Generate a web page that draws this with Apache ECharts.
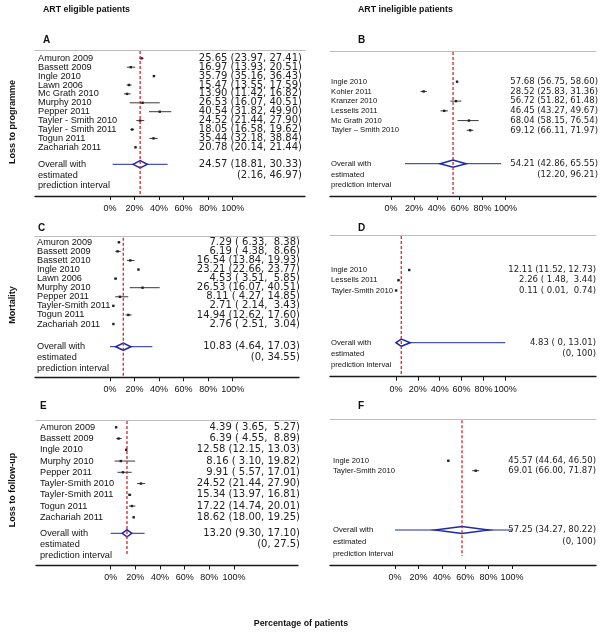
<!DOCTYPE html>
<html><head><meta charset="utf-8">
<script src="https://cdn.jsdelivr.net/npm/echarts@6/dist/echarts.min.js"></script>
<style>html,body{margin:0;padding:0;background:#fff}#c{width:602px;height:636px}</style>
</head><body><div id="c"></div>
<script>
// ---------- DATA ----------
const tickValues = [0, 20, 40, 60, 80, 100];
const overallLabels = ['Overall with', 'estimated', 'prediction interval'];

// Panel A: ART eligible – Loss to programme
const aNames = ['Amuron 2009','Bassett 2009','Ingle 2010','Lawn 2006','Mc Grath 2010','Murphy 2010','Pepper 2011','Tayler - Smith 2010','Tayler - Smith 2011','Togun 2011','Zachariah 2011'];
const aEst = [25.65,16.97,35.79,15.47,13.90,26.53,40.54,24.52,18.05,35.44,20.78];
const aLo  = [23.97,13.93,35.16,13.55,11.42,16.07,31.82,21.44,16.58,32.18,20.14];
const aHi  = [27.41,20.51,36.43,17.59,16.82,40.51,49.90,27.90,19.62,38.84,21.44];
const aPooled = [24.57, 18.81, 30.33];
const aPI = [2.16, 46.97];
const aPIText = '(2.16, 46.97)';

// Panel B: ART ineligible – Loss to programme
const bNames = ['Ingle 2010','Kohler 2011','Kranzer 2010','Lessells 2011','Mc Grath 2010','Tayler – Smith 2010'];
const bEst = [57.68,28.52,56.72,46.45,68.04,69.12];
const bLo  = [56.75,25.83,51.82,43.27,58.15,66.11];
const bHi  = [58.60,31.36,61.48,49.67,76.54,71.97];
const bPooled = [54.21, 42.86, 65.55];
const bPI = [12.20, 96.21];
const bPIText = '(12.20, 96.21)';

// Panel C: ART eligible – Mortality
const cNames = ['Amuron 2009','Bassett 2009','Bassett 2010','Ingle 2010','Lawn 2006','Murphy 2010','Pepper 2011','Tayler-Smith 2011','Togun 2011','Zachariah 2011'];
const cEst = [7.29,6.19,16.54,23.21,4.53,26.53,8.11,2.71,14.94,2.76];
const cLo  = [6.33,4.38,13.84,22.66,3.51,16.07,4.27,2.14,12.62,2.51];
const cHi  = [8.38,8.66,19.93,23.77,5.85,40.51,14.85,3.43,17.60,3.04];
const cPooled = [10.83, 4.64, 17.03];
const cPI = [0, 34.55];
const cPIText = '(0, 34.55)';

// Panel D: ART ineligible – Mortality
const dNames = ['Ingle 2010','Lessells 2011','Tayler-Smith 2010'];
const dEst = [12.11,2.26,0.11];
const dLo  = [11.52,1.48,0.01];
const dHi  = [12.73,3.44,0.74];
const dPooled = [4.83, 0, 13.01];
const dPI = [0, 100];
const dPIText = '(0, 100)';

// Panel E: ART eligible – Loss to follow-up
const eNames = ['Amuron 2009','Bassett 2009','Ingle 2010','Murphy 2010','Pepper 2011','Tayler-Smith 2010','Tayler-Smith 2011','Togun 2011','Zachariah 2011'];
const eEst = [4.39,6.39,12.58,8.16,9.91,24.52,15.34,17.22,18.62];
const eLo  = [3.65,4.55,12.15,3.10,5.57,21.44,13.97,14.74,18.00];
const eHi  = [5.27,8.89,13.03,19.82,17.01,27.90,16.81,20.01,19.25];
const ePooled = [13.20, 9.30, 17.10];
const ePI = [0, 27.5];
const ePIText = '(0, 27.5)';

// Panel F: ART ineligible – Loss to follow-up
const fNames = ['Ingle 2010','Tayler-Smith 2010'];
const fEst = [45.57,69.01];
const fLo  = [44.64,66.00];
const fHi  = [46.50,71.87];
const fPooled = [57.25, 34.27, 80.22];
const fPI = [0, 100];
const fPIText = '(0, 100)';

// ---------- LAYOUT ----------
const FONT = '"Liberation Sans", Arial, Helvetica, sans-serif';
const NUMFONT = '"DejaVu Sans", Verdana, sans-serif';
const panels = [
  {names:aNames, est:aEst, lo:aLo, hi:aHi, pooled:aPooled, pi:aPI, piText:aPIText,
   L:{left:35,right:305,top:50,bottom:196,zero:110,scale:1.227,firstY:58.3,rowStep:8.9,overallY:164.3,lineStep:10.7,nameX:38,ciRight:302,nameFont:9.2,ciFont:10,redEnd:196}},
  {names:bNames, est:bEst, lo:bLo, hi:bHi, pooled:bPooled, pi:bPI, piText:bPIText,
   L:{left:330,right:596,top:51,bottom:196,zero:391,scale:1.145,firstY:81.7,rowStep:9.72,overallY:163.7,lineStep:10.7,nameX:331,ciRight:598,nameFont:7.7,ciFont:8.5,redEnd:194}},
  {names:cNames, est:cEst, lo:cLo, hi:cHi, pooled:cPooled, pi:cPI, piText:cPIText,
   L:{left:35,right:299,top:236.7,bottom:377.3,zero:110,scale:1.227,firstY:242.3,rowStep:9.08,overallY:346.7,lineStep:11,nameX:37,ciRight:300,nameFont:9.2,ciFont:10,redEnd:377}},
  {names:dNames, est:dEst, lo:dLo, hi:dHi, pooled:dPooled, pi:dPI, piText:dPIText,
   L:{left:330,right:596,top:235,bottom:376.7,zero:396,scale:1.093,firstY:270,rowStep:10.25,overallY:342.7,lineStep:11.2,nameX:331,ciRight:596,nameFont:7.7,ciFont:8.5,redEnd:376}},
  {names:eNames, est:eEst, lo:eLo, hi:eHi, pooled:ePooled, pi:ePI, piText:ePIText,
   L:{left:36,right:298,top:420,bottom:565.5,zero:110.7,scale:1.233,firstY:427.3,rowStep:11.25,overallY:533.3,lineStep:10.85,nameX:40,ciRight:300,nameFont:9.2,ciFont:10,redEnd:556}},
  {names:fNames, est:fEst, lo:fLo, hi:fHi, pooled:fPooled, pi:fPI, piText:fPIText,
   L:{left:330,right:596,top:419.3,bottom:565,zero:395,scale:1.17,firstY:460.7,rowStep:10,overallY:530,lineStep:12,nameX:333,ciRight:596,nameFont:7.7,ciFont:8.5,redEnd:556}}
];

function ciString(e, l, h, pad) {
  const f = v => v === 0 ? '0' : v.toFixed(2);
  const p = s => pad ? s.padStart(5, ' ') : s;
  return e.toFixed(2) + ' (' + (l === 0 ? ' 0' : p(f(l))) + ', ' + p(f(h)) + ')';
}

const BLUE = '#1c2aa6';
const RED = '#d8262c';
const grid = [], xAxis = [], yAxis = [], series = [];

panels.forEach((P, i) => {
  const L = P.L;
  const width = L.right - L.left, height = L.bottom - L.top;
  const xMin = (L.left - L.zero) / L.scale;
  const xMax = xMin + width / L.scale;
  const yMin = (L.top - L.firstY) / L.rowStep;
  const yMax = (L.bottom - L.firstY) / L.rowStep;
  const oRow = (L.overallY - L.firstY) / L.rowStep;
  const lStep = L.lineStep / L.rowStep;

  grid.push({left: L.left, top: L.top, width: width, height: height, containLabel: false});
  xAxis.push({
    gridIndex: i, type: 'value', position: 'bottom', min: xMin, max: xMax,
    axisLine: {show: true, onZero: false, lineStyle: {color: '#1a1a1a', width: 1.3}},
    axisTick: {show: true, customValues: tickValues, length: 4, lineStyle: {color: '#1a1a1a', width: 1}},
    axisLabel: {show: true, customValues: tickValues, formatter: v => v + '%', fontSize: 9, color: '#111', margin: 8, fontFamily: FONT},
    splitLine: {show: false}
  });
  xAxis.push({
    gridIndex: i, type: 'value', position: 'top', min: xMin, max: xMax,
    axisLine: {show: true, onZero: false, lineStyle: {color: '#bdbdbd', width: 1}},
    axisTick: {show: false}, axisLabel: {show: false}, splitLine: {show: false}
  });
  yAxis.push({gridIndex: i, type: 'value', inverse: true, min: yMin, max: yMax, show: false});

  const xi = 2 * i, yi = i;

  // study CIs and point estimates
  series.push({
    type: 'custom', xAxisIndex: xi, yAxisIndex: yi, silent: true,
    data: P.names.map((n, k) => [P.est[k], P.lo[k], P.hi[k], k]),
    encode: {x: [0, 1, 2], y: 3},
    renderItem: (params, api) => {
      const y = api.coord([0, api.value(3)])[1];
      const xe = api.coord([api.value(0), 0])[0];
      const xl = api.coord([api.value(1), 0])[0];
      const xh = api.coord([api.value(2), 0])[0];
      return {type: 'group', children: [
        {type: 'line', shape: {x1: xl, y1: y, x2: xh, y2: y}, style: {stroke: '#222', lineWidth: 0.9}},
        {type: 'rect', shape: {x: xe - 1.2, y: y - 1.2, width: 2.4, height: 2.4}, style: {fill: '#222'}}
      ]};
    }
  });

  // pooled estimate diamond with prediction interval
  series.push({
    type: 'custom', xAxisIndex: xi, yAxisIndex: yi, silent: true,
    data: [[P.pooled[0], P.pooled[1], P.pooled[2], P.pi[0], P.pi[1], oRow]],
    encode: {x: [0, 1, 2, 3, 4], y: 5},
    renderItem: (params, api) => {
      const y = api.coord([0, api.value(5)])[1];
      const xe = api.coord([api.value(0), 0])[0];
      const xl = api.coord([api.value(1), 0])[0];
      const xh = api.coord([api.value(2), 0])[0];
      const pl = api.coord([api.value(3), 0])[0];
      const ph = api.coord([api.value(4), 0])[0];
      const h = 3.6;
      return {type: 'group', children: [
        {type: 'line', shape: {x1: pl, y1: y, x2: ph, y2: y}, style: {stroke: BLUE, lineWidth: 1}},
        {type: 'polygon', shape: {points: [[xl, y], [xe, y - h], [xh, y], [xe, y + h]]},
         style: {fill: '#fff', stroke: BLUE, lineWidth: 1.5}}
      ]};
    }
  });

  // red dashed line at pooled estimate
  series.push({
    type: 'custom', xAxisIndex: xi, yAxisIndex: yi, silent: true,
    data: [[P.pooled[0], 0]],
    encode: {x: 0, y: 1},
    renderItem: (params, api) => {
      const x = api.coord([api.value(0), 0])[0];
      const cs = params.coordSys;
      return {type: 'line', shape: {x1: x, y1: cs.y + 1, x2: x, y2: L.redEnd},
        style: {stroke: RED, lineWidth: 1.3, lineDash: [3, 2]}};
    }
  });

  // row texts (study labels and estimates)
  const rowTexts = P.names.map((n, k) => ({row: k, name: n, ci: ciString(P.est[k], P.lo[k], P.hi[k], true)}));
  rowTexts.push({row: oRow, name: overallLabels[0], ci: ciString(P.pooled[0], P.pooled[1], P.pooled[2], false)});
  rowTexts.push({row: oRow + lStep, name: overallLabels[1], ci: P.piText});
  rowTexts.push({row: oRow + 2 * lStep, name: overallLabels[2], ci: ''});
  series.push({
    type: 'custom', xAxisIndex: xi, yAxisIndex: yi, silent: true,
    data: rowTexts.map(r => [0, r.row]),
    encode: {x: 0, y: 1},
    renderItem: (params, api) => {
      const r = rowTexts[params.dataIndex];
      const y = api.coord([0, api.value(1)])[1];
      return {type: 'group', children: [
        {type: 'text', x: L.nameX, y: y, style: {text: r.name, fontSize: L.nameFont, fontFamily: FONT, fill: '#111', align: 'left', verticalAlign: 'middle'}},
        {type: 'text', x: L.ciRight, y: y, style: {text: r.ci, fontSize: L.ciFont, fontFamily: NUMFONT, fill: '#222', align: 'right', verticalAlign: 'middle'}}
      ]};
    }
  });
});

const txt = (t, x, y, size, extra) => Object.assign({type: 'text', x: x, y: y,
  style: {text: t, fontSize: size, fontWeight: 'bold', fontFamily: FONT, fill: '#111', align: 'left', verticalAlign: 'middle'}}, extra || {});
const rot = (t, x, y) => ({type: 'text', x: x, y: y, rotation: Math.PI / 2,
  style: {text: t, fontSize: 9, fontWeight: 'bold', fontFamily: FONT, fill: '#111', align: 'center', verticalAlign: 'middle'}});

const graphic = [
  txt('ART eligible patients', 43, 10, 8.8),
  txt('ART ineligible patients', 358, 10, 8.8),
  txt('A', 43, 40, 10), txt('B', 358, 40, 10),
  txt('C', 38, 228, 10), txt('D', 358, 228, 10),
  txt('E', 40, 406, 10), txt('F', 358, 406, 10),
  rot('Loss to programme', 13, 122),
  rot('Mortality', 13, 305),
  rot('Loss to follow-up', 13, 490),
  {type: 'text', x: 301, y: 624, style: {text: 'Percentage of patients', fontSize: 8.8, fontWeight: 'bold', fontFamily: FONT, fill: '#111', align: 'center', verticalAlign: 'middle'}}
];

const chart = echarts.init(document.getElementById('c'), null, {renderer: 'canvas'});
chart.setOption({backgroundColor: '#fff', animation: false, grid, xAxis, yAxis, series, graphic});
</script>
</body></html>
